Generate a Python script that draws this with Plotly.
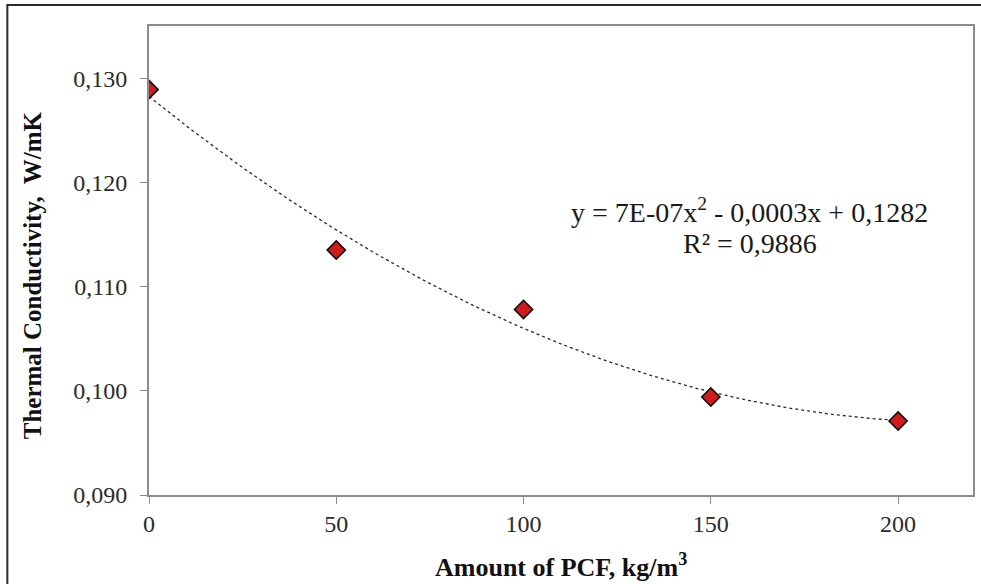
import numpy as np
import plotly.graph_objects as go

# ---- data ----
pcf_amount = [0, 50, 100, 150, 200]
conductivity = [0.1289, 0.1135, 0.1078, 0.0994, 0.0971]
y_ticks = [0.090, 0.100, 0.110, 0.120, 0.130]
x_ticks = [0, 50, 100, 150, 200]
equation_text = "y = 7E-07x<sup>2</sup> - 0,0003x + 0,1282"
r2_text = "R² = 0,9886"
x_title = "Amount of PCF, kg/m<sup>3</sup>"
y_title = "Thermal Conductivity,  W/mK"

# 2nd-order polynomial trendline computed from the data
coef = np.polyfit(pcf_amount, conductivity, 2)
xs = np.linspace(min(pcf_amount), max(pcf_amount), 200)
ys = np.polyval(coef, xs)

W, H = 981, 584
L, R, T, B = 149, 6, 26, 89
pw, ph = W - L - R, H - T - B

fig = go.Figure()
fig.add_trace(go.Scatter(x=xs, y=ys, mode="lines",
                         line=dict(color="#2a2a2a", width=1.3, dash="3px,3px"),
                         hoverinfo="skip", showlegend=False))
fig.add_trace(go.Scatter(x=pcf_amount, y=conductivity, mode="markers",
                         marker=dict(symbol="diamond", size=14, color="#D01C1C",
                                     line=dict(color="#111111", width=1.6)),
                         showlegend=False))

font_serif = "Liberation Serif, Times New Roman, serif"
axis_col = "#8c8c8c"
tick_font = dict(family=font_serif, size=24, color="#2b2b2b")

fig.update_layout(
    width=W, height=H,
    margin=dict(l=L, r=R, t=T, b=B, pad=0),
    paper_bgcolor="white", plot_bgcolor="white",
    separators=",.",
    font=dict(family=font_serif, size=24, color="#222222"),
    xaxis=dict(range=[0, 220], tickvals=x_ticks, showgrid=False, zeroline=False,
               showline=True, linecolor=axis_col, linewidth=1.8, mirror=True,
               ticks="outside", ticklen=7, tickcolor=axis_col, tickwidth=1,
               ticklabelstandoff=-1, tickfont=tick_font),
    yaxis=dict(range=[0.090, 0.135], tickvals=y_ticks, tickformat=".3f",
               showgrid=False, zeroline=False,
               showline=True, linecolor=axis_col, linewidth=1.8, mirror=True,
               ticks="outside", ticklen=7, tickcolor=axis_col, tickwidth=1,
               ticklabelstandoff=8, tickfont=tick_font),
)

def px_x(p):
    return (p - L) / pw

def px_y(p):
    return 1 - (p - T) / ph

annots = [
    dict(text=equation_text, x=px_x(751), y=px_y(210), font=dict(size=28, color="#1a1a1a")),
    dict(text=r2_text, x=px_x(751), y=px_y(243), font=dict(size=28, color="#1a1a1a")),
    dict(text="<b>" + x_title + "</b>", x=px_x(562), y=px_y(565), font=dict(size=26, color="#111111")),
    dict(text="<b>" + y_title + "</b>", x=px_x(32), y=px_y(275), font=dict(size=25, color="#111111"),
         textangle=-90),
]
for a in annots:
    fig.add_annotation(xref="paper", yref="paper", showarrow=False,
                       xanchor="center", yanchor="middle", **a)

# outer chart border (right and bottom edges fall outside the picture)
fig.add_shape(type="rect", xref="paper", yref="paper",
              x0=px_x(7), x1=px_x(995), y0=px_y(600), y1=px_y(5),
              line=dict(color="#2a2a2a", width=2), fillcolor="rgba(0,0,0,0)", layer="below")

fig.write_html("out.html",
               config={"displayModeBar": False},
               post_script="document.body.style.margin='0';document.body.style.overflow='hidden';")
